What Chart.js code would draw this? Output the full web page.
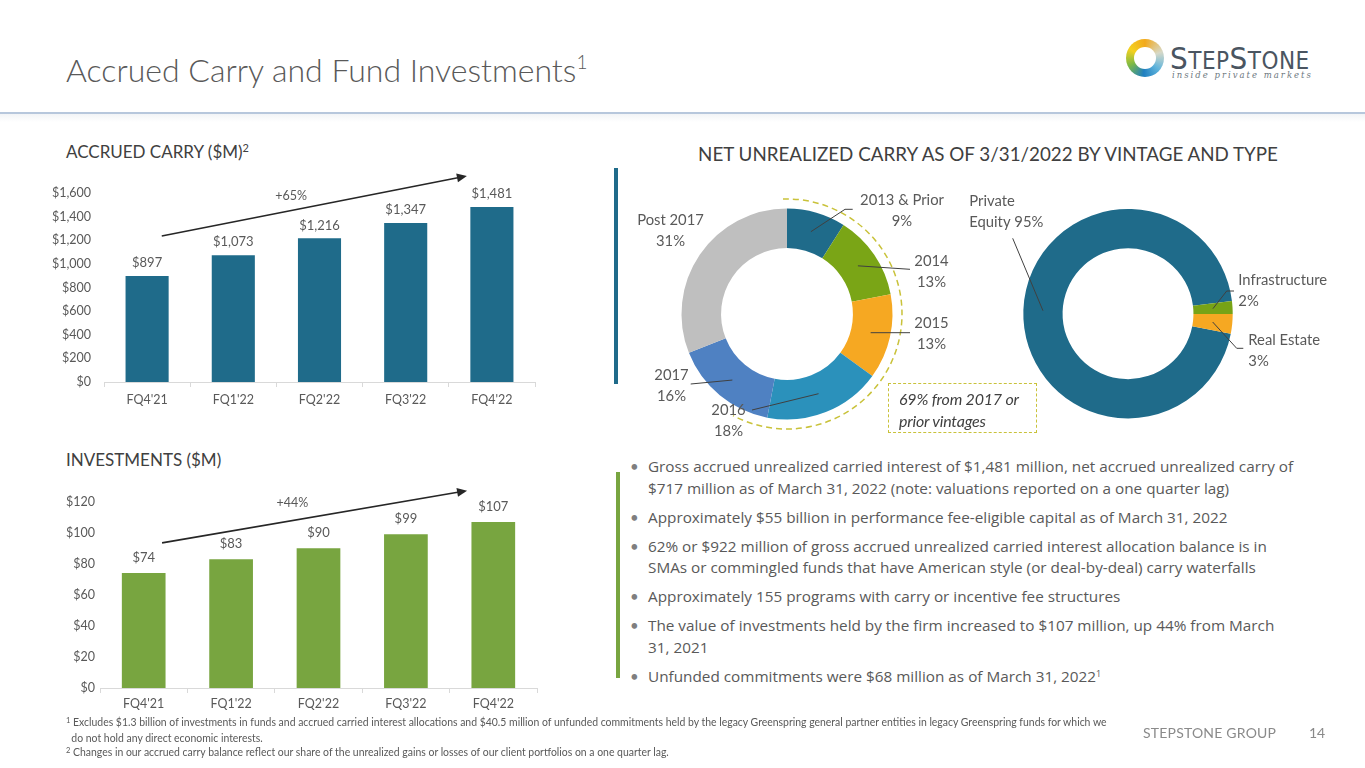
<!DOCTYPE html>
<html>
<head>
<meta charset="utf-8">
<title>Accrued Carry and Fund Investments</title>
<script src="https://cdn.jsdelivr.net/npm/chart.js@4.4.1/dist/chart.umd.min.js"></script>
<style>
  html, body { margin: 0; padding: 0; background: #fff; }
  body { width: 1365px; height: 768px; position: relative; overflow: hidden;
         font-family: Lato, "Open Sans", sans-serif; color: #595959; }
  .abs { position: absolute; }
  .title { left: 66px; top: 50px; font-size: 32px; font-weight: 300; color: #595959; white-space: nowrap; }
  .title sup { font-size: 19px; vertical-align: 13px; line-height: 0; }
  .rule { left: 0; top: 112px; width: 1365px; height: 2px; background: #b7c7dc; }
  .shade { left: 0; top: 114px; width: 1365px; height: 8px;
           background: linear-gradient(#f2f4f6, #fff); }
  .head { font-size: 17px; color: #404040; white-space: nowrap; line-height: 20px; }
  .head sup { font-size: 11px; vertical-align: 6px; line-height: 0; }
  .accent { width: 4px; }
  .bullets { left: 630px; top: 456px; font-family: "Open Sans", Lato, sans-serif; font-size: 15.3px;
             line-height: 21.5px; color: #595959; }
  .bullets p { margin: 0 0 7.5px 0; padding-left: 18px; position: relative; white-space: nowrap; }
  .bullets p::before { content: "\2022"; position: absolute; left: 0; top: 0; color: #7f7f7f;
                       font-family: Lato, sans-serif; font-size: 15px; }
  .bullets sup { font-size: 9px; vertical-align: 5px; line-height: 0; }
  .note { left: 66px; font-size: 10.45px; line-height: 16px; color: #595959; white-space: nowrap; }
  .note sup { font-size: 7.5px; vertical-align: 3px; line-height: 0; }
  .callout { left: 888px; top: 383px; width: 149px; height: 50px; border: 1.5px dashed #c9c23a;
             box-sizing: border-box; font-style: italic; font-size: 16px; line-height: 21.5px;
             color: #404040; padding: 4px 0 0 10px; letter-spacing: -0.2px; white-space: nowrap; }
  .chartbox { position: absolute; }
</style>
</head>
<body>

<div class="abs title">Accrued Carry and Fund Investments<sup>1</sup></div>
<div class="abs rule"></div>
<div class="abs shade"></div>

<!-- logo -->
<div class="abs" style="left:1126px;top:39px;width:38px;height:38px;border-radius:50%;
     background:conic-gradient(from 0deg,#f2a91c 0deg,#d7d9c8 70deg,#5fb4dc 130deg,#1f7fc0 185deg,#7cb945 245deg,#f4d11f 300deg,#f2a91c 360deg);"></div>
<div class="abs" style="left:1134px;top:47px;width:22px;height:22px;border-radius:50%;background:#fff;"></div>
<div class="abs" style="left:1170px;top:40px;font-family:'Liberation Sans Narrow','DejaVu Sans Condensed',sans-serif;color:#4a5561;white-space:nowrap;letter-spacing:0.5px;">
  <span style="font-size:31px;">S</span><span style="font-size:24px;">TEP</span><span style="font-size:31px;">S</span><span style="font-size:24px;">TONE</span>
</div>
<div class="abs" style="left:1172px;top:70px;font-family:'DejaVu Serif',serif;font-style:italic;font-size:8.5px;letter-spacing:2px;color:#6d7880;white-space:nowrap;">inside private markets</div>

<!-- headings -->
<div class="abs head" style="left:66px;top:142px;">ACCRUED CARRY ($M)<sup>2</sup></div>
<div class="abs head" style="left:66px;top:450px;">INVESTMENTS ($M)</div>
<div class="abs head" style="left:668px;top:144px;width:640px;text-align:center;font-size:18.8px;">NET UNREALIZED CARRY AS OF 3/31/2022 BY VINTAGE AND TYPE</div>

<div class="abs accent" style="left:614px;top:168px;height:216px;background:#1f6b8a;"></div>
<div class="abs accent" style="left:616px;top:472px;height:206px;background:#78a540;"></div>

<!-- charts -->
<div class="chartbox" style="left:40px;top:165px;width:505px;height:257px;"><canvas id="carryChart"></canvas></div>
<div class="chartbox" style="left:36px;top:475px;width:511px;height:253px;"><canvas id="investChart"></canvas></div>
<div class="chartbox" style="left:620px;top:180px;width:360px;height:270px;"><canvas id="vintageChart"></canvas></div>
<div class="chartbox" style="left:950px;top:180px;width:400px;height:260px;"><canvas id="typeChart"></canvas></div>

<div class="abs callout">69% from 2017 or<br>prior vintages</div>

<!-- commentary -->
<div class="abs bullets">
  <p>Gross accrued unrealized carried interest of $1,481 million, net accrued unrealized carry of<br>$717 million as of March 31, 2022 (note: valuations reported on a one quarter lag)</p>
  <p>Approximately $55 billion in performance fee-eligible capital as of March 31, 2022</p>
  <p>62% or $922 million of gross accrued unrealized carried interest allocation balance is in<br>SMAs or commingled funds that have American style (or deal-by-deal) carry waterfalls</p>
  <p>Approximately 155 programs with carry or incentive fee structures</p>
  <p>The value of investments held by the firm increased to $107 million, up 44% from March<br>31, 2021</p>
  <p>Unfunded commitments were $68 million as of March 31, 2022<sup>1</sup></p>
</div>

<!-- footnotes -->
<div class="abs note" style="top:713.7px;"><sup>1</sup> Excludes $1.3 billion of investments in funds and accrued carried interest allocations and $40.5 million of unfunded commitments held by the legacy Greenspring general partner entities in legacy Greenspring funds for which we<br>&nbsp;&nbsp;do not hold any direct economic interests.</div>
<div class="abs note" style="top:743.7px;"><sup>2</sup> Changes in our accrued carry balance reflect our share of the unrealized gains or losses of our client portfolios on a one quarter lag.</div>
<div class="abs" style="left:1143px;top:724px;font-size:14px;color:#8a8a8a;letter-spacing:0.2px;white-space:nowrap;">STEPSTONE GROUP</div>
<div class="abs" style="left:1309px;top:724px;font-size:14px;color:#8a8a8a;">14</div>

<script>
// -----------------------------
// DATA
// -----------------------------
const quarters = ["FQ4'21", "FQ1'22", "FQ2'22", "FQ3'22", "FQ4'22"];
const accruedCarry = [897, 1073, 1216, 1347, 1481];
const investments = [74, 83, 90, 99, 107];

const carryAxis = { max: 1600, step: 200 };
const investAxis = { max: 120, step: 20 };

const vintageLabels = ["2013 & Prior", "2014", "2015", "2016", "2017", "Post 2017"];
const vintageShares = [9, 13, 13, 18, 16, 31];

const typeLabels = ["Private Equity", "Infrastructure", "Real Estate"];
const typeShares = [95, 2, 3];

// -----------------------------
// STYLE
// -----------------------------
const TEAL = "#1f6b8a";
const GREEN = "#78a540";
const vintageColors = [TEAL, "#7aa516", "#f6a822", "#2b91bb", "#4f81c2", "#bfbfbf"];
const typeColors = [TEAL, "#77a316", "#f6a822"];
const TEXT = "#595959";
const FONT = "Lato, 'Open Sans', sans-serif";

// label placement around the donuts (offsets from donut centre)
const vintageLabelLayout = [
    { at: [115, -114], path: [[58, -104.7], [65.7, -104.7]] },
    { at: [144.5, -53], path: [[123, -44.7]] },
    { at: [144.5, 9.3], path: [[123, 18.7]] },
    { at: [-58.5, 96], path: [[-35, 96]] },
    { at: [-115.5, 61], path: [[-96.3, 70]] },
    { at: [-116.5, -94], path: [] }
];
const typeLabelLayout = [
    { at: [-158.7, -112], path: [[-115.3, -75.4]], wrap: true },
    { at: [110.3, -33], path: [[98.7, -22.7], [106, -22.7]] },
    { at: [120.3, 26.6], path: [[108.7, 34.6], [115.3, 34.6]] }
];

Chart.defaults.font.family = FONT;
Chart.defaults.color = TEXT;
Chart.defaults.animation = false;

// -----------------------------
// PLUGINS
// -----------------------------
const barValues = {
    id: "barValues",
    afterDatasetsDraw(chart, args, opts) {
        const ctx = chart.ctx;
        const meta = chart.getDatasetMeta(0);
        const values = chart.data.datasets[0].data;
        ctx.save();
        ctx.font = "13px " + FONT;
        ctx.fillStyle = TEXT;
        ctx.textAlign = "center";
        ctx.textBaseline = "middle";
        meta.data.forEach((bar, i) => {
            ctx.fillText("$" + values[i].toLocaleString("en-US"), bar.x, bar.y - opts.offset);
        });
        ctx.restore();
    }
};

const growthArrow = {
    id: "growthArrow",
    afterDraw(chart, args, opts) {
        const { x, y } = chart.scales;
        const ctx = chart.ctx;
        const x1 = x.getPixelForValue(opts.from[0]), y1 = y.getPixelForValue(opts.from[1]);
        const x2 = x.getPixelForValue(opts.to[0]), y2 = y.getPixelForValue(opts.to[1]);
        const a = Math.atan2(y2 - y1, x2 - x1);
        const head = 10;
        ctx.save();
        ctx.strokeStyle = "#262626";
        ctx.fillStyle = "#262626";
        ctx.lineWidth = 1.6;
        ctx.beginPath();
        ctx.moveTo(x1, y1);
        ctx.lineTo(x2 - head * 0.8 * Math.cos(a), y2 - head * 0.8 * Math.sin(a));
        ctx.stroke();
        ctx.beginPath();
        ctx.moveTo(x2, y2);
        ctx.lineTo(x2 - head * Math.cos(a) + 4.5 * Math.sin(a), y2 - head * Math.sin(a) - 4.5 * Math.cos(a));
        ctx.lineTo(x2 - head * Math.cos(a) - 4.5 * Math.sin(a), y2 - head * Math.sin(a) + 4.5 * Math.cos(a));
        ctx.closePath();
        ctx.fill();
        ctx.font = "12.5px " + FONT;
        ctx.fillStyle = TEXT;
        ctx.textAlign = "center";
        ctx.textBaseline = "middle";
        ctx.fillText(opts.text, x.getPixelForValue(opts.textAt[0]), y.getPixelForValue(opts.textAt[1]));
        ctx.restore();
    }
};

const sliceLabels = {
    id: "sliceLabels",
    afterDraw(chart, args, opts) {
        const ctx = chart.ctx;
        const meta = chart.getDatasetMeta(0);
        const area = chart.chartArea;
        const cx = (area.left + area.right) / 2;
        const cy = (area.top + area.bottom) / 2;
        const labels = chart.data.labels;
        const values = chart.data.datasets[0].data;
        ctx.save();

        if (opts.ring) {
            const r = opts.ring;
            ctx.strokeStyle = "#c9c23a";
            ctx.lineWidth = 1.5;
            ctx.setLineDash([6, 4]);
            ctx.beginPath();
            ctx.arc(cx, cy, r.radius, (r.start - 90) * Math.PI / 180, (r.end - 90) * Math.PI / 180);
            ctx.stroke();
            ctx.setLineDash([]);
        }

        ctx.font = "14.8px " + FONT;
        ctx.textBaseline = "middle";
        meta.data.forEach((arc, i) => {
            const lay = opts.layout[i];
            const p = arc.tooltipPosition();
            if (lay.path.length) {
                ctx.strokeStyle = "#404040";
                ctx.lineWidth = 1;
                ctx.beginPath();
                ctx.moveTo(p.x, p.y);
                lay.path.forEach(pt => ctx.lineTo(cx + pt[0], cy + pt[1]));
                ctx.stroke();
            }
            let lines;
            if (lay.wrap) {
                const words = labels[i].split(" ");
                lines = [words[0], words.slice(1).join(" ") + " " + values[i] + "%"];
            } else {
                lines = [labels[i], values[i] + "%"];
            }
            ctx.fillStyle = TEXT;
            ctx.textAlign = opts.align;
            lines.forEach((t, k) => ctx.fillText(t, cx + lay.at[0], cy + lay.at[1] + k * 21));
        });
        ctx.restore();
    }
};

// -----------------------------
// BAR CHARTS
// -----------------------------
function barChart(canvasId, values, color, axis, cfg) {
    return new Chart(document.getElementById(canvasId), {
        type: "bar",
        data: {
            labels: quarters,
            datasets: [{
                data: values,
                backgroundColor: color,
                barPercentage: 0.5,
                categoryPercentage: 1
            }]
        },
        options: {
            responsive: true,
            maintainAspectRatio: false,
            layout: { padding: { top: cfg.padTop, right: 10, left: 0, bottom: 0 } },
            plugins: {
                legend: { display: false },
                tooltip: { enabled: false },
                barValues: { offset: cfg.labelOffset },
                growthArrow: cfg.arrow
            },
            scales: {
                x: {
                    grid: { display: true, drawOnChartArea: false, drawTicks: true, tickLength: 5, color: "#d9d9d9" },
                    border: { display: true, color: "#d9d9d9" },
                    ticks: { font: { size: 12.5 }, color: TEXT, padding: cfg.xPad },
                    afterFit: s => { s.height = 40; }
                },
                y: {
                    min: 0,
                    max: axis.max,
                    grid: { display: false, drawTicks: false },
                    border: { display: false },
                    ticks: {
                        stepSize: axis.step,
                        font: { size: 12.5 },
                        color: TEXT,
                        padding: cfg.yPad,
                        callback: v => "$" + v.toLocaleString("en-US")
                    },
                    afterFit: s => { s.width = 64; }
                }
            }
        },
        plugins: [barValues, growthArrow]
    });
}

barChart("carryChart", accruedCarry, TEAL, carryAxis, {
    padTop: 28, labelOffset: 13, xPad: 5, yPad: 13,
    arrow: { from: [0.17, 1236], to: [3.71, 1744], text: "+65%", textAt: [1.67, 1575] }
});

barChart("investChart", investments, GREEN, investAxis, {
    padTop: 26.7, labelOffset: 15, xPad: 3.3, yPad: 5,
    arrow: { from: [0.21, 93.5], to: [3.70, 127.1], text: "+44%", textAt: [1.70, 119.2] }
});

// -----------------------------
// DONUT CHARTS
// -----------------------------
function donutChart(canvasId, labels, values, colors, pad, rotation, labelOpts) {
    return new Chart(document.getElementById(canvasId), {
        type: "doughnut",
        data: {
            labels,
            datasets: [{ data: values, backgroundColor: colors, borderWidth: 0 }]
        },
        options: {
            responsive: true,
            maintainAspectRatio: false,
            cutout: "62.5%",
            rotation,
            layout: { padding: pad },
            plugins: {
                legend: { display: false },
                tooltip: { enabled: false },
                sliceLabels: labelOpts
            }
        },
        plugins: [sliceLabels]
    });
}

donutChart("vintageChart", vintageLabels, vintageShares, vintageColors,
    { left: 61.5, top: 28.5, right: 87.5, bottom: 30.5 }, 0,
    { layout: vintageLabelLayout, align: "center", ring: { radius: 115, start: -2, end: 208 } });

donutChart("typeChart", typeLabels, typeShares, typeColors,
    { left: 73.3, top: 29, right: 117.3, bottom: 21.6 }, 101,
    { layout: typeLabelLayout, align: "left" });
</script>
</body>
</html>
